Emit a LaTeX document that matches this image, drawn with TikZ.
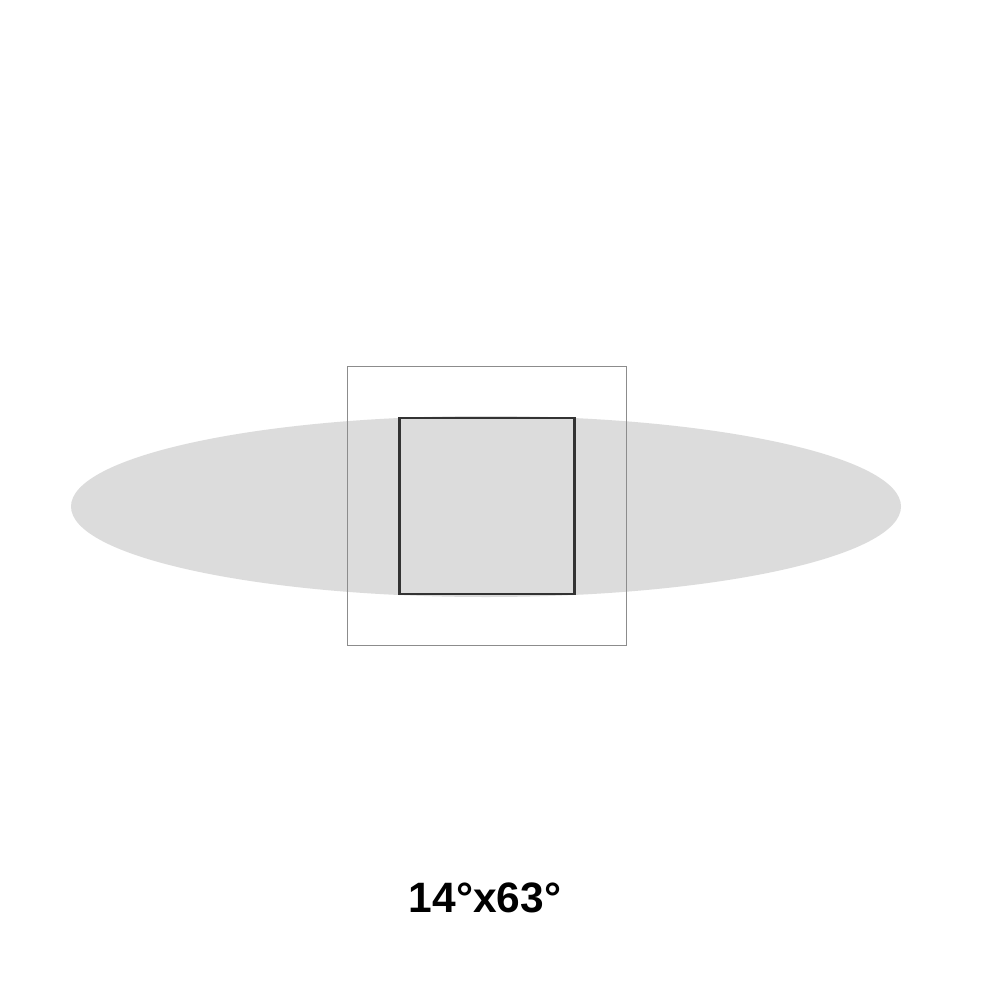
\documentclass[tikz,border=0pt]{standalone}
\usepackage{fontspec}
\setmainfont{Liberation Sans}
\usetikzlibrary{shapes.geometric}
\definecolor{beamgray}{HTML}{DCDCDC}
\definecolor{outergray}{HTML}{8C8C8C}
\definecolor{innerdark}{HTML}{333333}
\tikzset{
  beam/.style={ellipse, fill=beamgray, draw=none, inner sep=0pt, minimum width=830pt, minimum height=181pt},
  outerbox/.style={rectangle, draw=outergray, line width=1pt, inner sep=0pt, minimum width=279pt, minimum height=279pt},
  innerbox/.style={rectangle, draw=innerdark, line width=2.4pt, inner sep=0pt, minimum width=175pt, minimum height=176pt},
  label/.style={font=\bfseries\fontsize{42.5}{46}\selectfont, inner sep=0pt, anchor=base}
}
\begin{document}
\begin{tikzpicture}[x=1pt,y=-1pt]
\useasboundingbox (0,0) rectangle (1000,1000);
\fill[white] (0,0) rectangle (1000,1000);
\node[beam] (beam) at (486,506.5) {};
\node[outerbox] (outer) at (486.5,505.5) {};
\node[innerbox] (inner) at (487,506) {};
\node[label] (angle) at (485,912) {14°x63°};
\end{tikzpicture}
\end{document}
